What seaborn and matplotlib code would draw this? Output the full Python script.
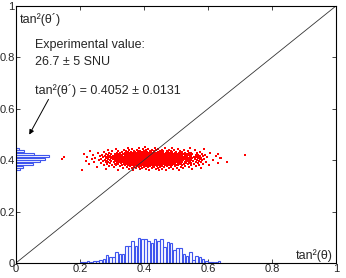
import numpy as np
import pandas as pd
import matplotlib
matplotlib.use("Agg")
import matplotlib.pyplot as plt
import seaborn as sns

# histogram of tan^2(theta) along the bottom (bin centres, bar heights)
x_bins = [0.205, 0.215, 0.225, 0.235, 0.245, 0.255, 0.265, 0.275, 0.285, 0.295,
          0.305, 0.315, 0.325, 0.335, 0.345, 0.355, 0.365, 0.375, 0.385, 0.395,
          0.405, 0.415, 0.425, 0.435, 0.445, 0.455, 0.465, 0.475, 0.485, 0.495,
          0.505, 0.515, 0.525, 0.535, 0.545, 0.555, 0.565, 0.575, 0.585, 0.595,
          0.605, 0.615, 0.625, 0.635]
x_heights = [0.003, 0.004, 0.006, 0.005, 0.008, 0.006, 0.013, 0.014, 0.031, 0.022,
             0.022, 0.044, 0.034, 0.034, 0.066, 0.066, 0.085, 0.066, 0.096, 0.092,
             0.092, 0.085, 0.076, 0.092, 0.087, 0.092, 0.063, 0.081, 0.076, 0.050,
             0.057, 0.057, 0.034, 0.029, 0.044, 0.012, 0.027, 0.022, 0.015, 0.008,
             0.005, 0.003, 0.002, 0.006]

# histogram of tan^2(theta') along the left side
y_bins = [0.365, 0.375, 0.385, 0.395, 0.405, 0.415, 0.425, 0.435, 0.445]
y_widths = [0.012, 0.021, 0.053, 0.075, 0.090, 0.103, 0.058, 0.025, 0.010]

# a few isolated points far from the cloud
extra_x = [0.144, 0.640, 0.660, 0.716, 0.150, 0.615, 0.630]
extra_y = [0.405, 0.410, 0.393, 0.420, 0.412, 0.400, 0.425]

# rebuild the point cloud from the two marginal histograms
scale = 400
counts = np.round(np.array(x_heights) * scale).astype(int)
px = []
for c, k in zip(x_bins, counts):
    for j in range(k):
        px.append(c - 0.005 + (j + 0.5) / k * 0.01)
px = np.array(px)
n = len(px)
yedges = np.append(np.array(y_bins) - 0.005, y_bins[-1] + 0.005)
cdf = np.concatenate([[0], np.cumsum(y_widths)]) / np.sum(y_widths)
order = np.argsort(((np.arange(n) * 0.6180339887) % 1.0))
py = np.interp((order + 0.5) / n, cdf, yedges)
pts = pd.DataFrame({"x": np.concatenate([px, extra_x]),
                    "y": np.concatenate([py, extra_y])})
xh = pd.DataFrame({"v": x_bins, "w": x_heights})
yh = pd.DataFrame({"v": y_bins, "w": y_widths})

sns.set_style("white")
plt.rcParams["font.family"] = ["Liberation Sans", "DejaVu Sans"]

fig = plt.figure(figsize=(3.46, 2.78), dpi=100)
ax = fig.add_axes([0.046, 0.054, 0.925, 0.9245])

ax.plot([0, 1], [0, 1], color="#333333", lw=0.6)
sns.scatterplot(data=pts, x="x", y="y", ax=ax, color="red", s=3, marker="s",
                linewidth=0, legend=False)

bar_col = "#3f55ee"
xedges = np.append(np.array(x_bins) - 0.005, x_bins[-1] + 0.005)
sns.histplot(data=xh, x="v", weights="w", bins=list(xedges), ax=ax, fill=False,
             element="bars", shrink=0.8, color=bar_col, linewidth=0.8)
sns.histplot(data=yh, y="v", weights="w", bins=list(yedges), ax=ax, fill=False,
             element="bars", shrink=0.8, color=bar_col, linewidth=0.8)

ax.set_xlim(0, 1)
ax.set_ylim(0, 1)
ticks = [0, 0.2, 0.4, 0.6, 0.8, 1]
labels = ["0", "0.2", "0.4", "0.6", "0.8", "1"]
ax.set_xticks(ticks, labels)
ax.set_yticks(ticks, labels)
ax.tick_params(direction="in", length=3, width=0.6, labelsize=8, pad=1,
               top=True, right=True, bottom=True, left=True)
ax.set_xlabel("")
ax.set_ylabel("")
for s in ax.spines.values():
    s.set_color("black")
    s.set_linewidth(0.8)

ax.text(0.0125, 0.949, "tan²(θ´)", fontsize=9, va="center", ha="left")
ax.text(0.99, 0.027, "tan²(θ)", fontsize=9, va="center", ha="right")
ax.text(0.059, 0.848, "Experimental value:", fontsize=9, va="center")
ax.text(0.059, 0.782, "26.7 ± 5 SNU", fontsize=9, va="center")
ax.text(0.059, 0.673, "tan²(θ´) = 0.4052 ± 0.0131", fontsize=9, va="center")
ax.annotate("", xy=(0.0375, 0.49), xytext=(0.106, 0.646),
            arrowprops=dict(arrowstyle="-|>", color="black", lw=0.7,
                            mutation_scale=7))

plt.savefig("out.png", dpi=100)
